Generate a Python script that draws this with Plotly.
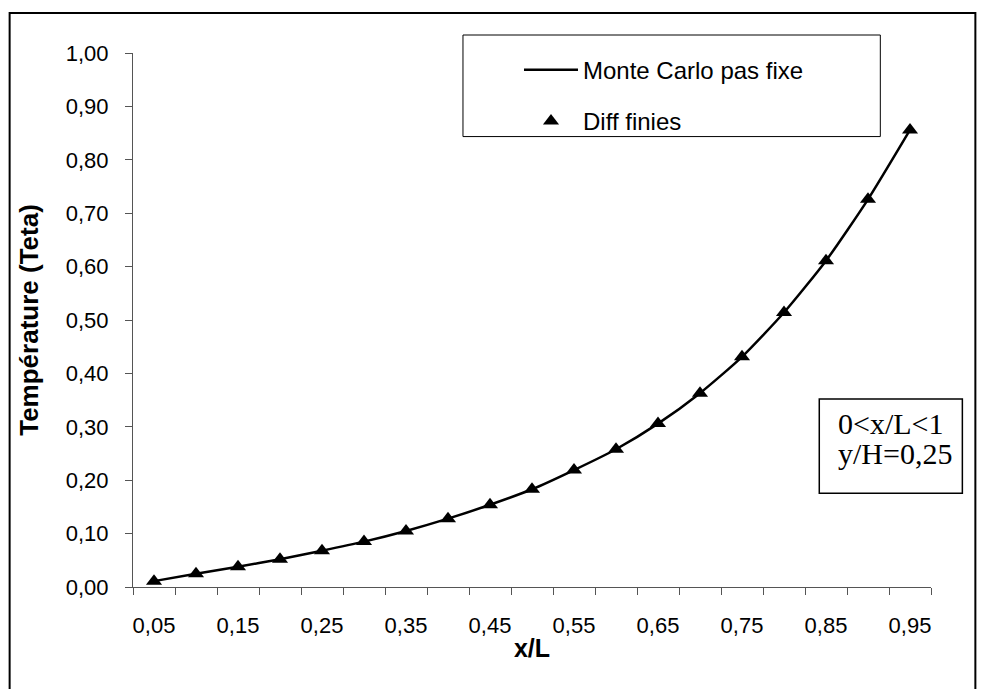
import plotly.graph_objects as go

# Dimensionless position along the plate
x_over_L = [0.05, 0.10, 0.15, 0.20, 0.25, 0.30, 0.35, 0.40, 0.45, 0.50,
            0.55, 0.60, 0.65, 0.70, 0.75, 0.80, 0.85, 0.90, 0.95]

# Temperature (Teta) from the fixed-step Monte Carlo walk
teta_monte_carlo = [0.011, 0.025, 0.038, 0.052, 0.068, 0.085, 0.105, 0.128, 0.154, 0.183,
                    0.219, 0.258, 0.306, 0.363, 0.431, 0.514, 0.611, 0.726, 0.856]

# Temperature (Teta) from the finite-difference solution
teta_diff_finies = [0.011, 0.025, 0.038, 0.052, 0.068, 0.085, 0.105, 0.128, 0.154, 0.183,
                    0.219, 0.258, 0.306, 0.363, 0.431, 0.514, 0.611, 0.726, 0.856]

x_tick_values = [0.05, 0.15, 0.25, 0.35, 0.45, 0.55, 0.65, 0.75, 0.85, 0.95]
x_tick_labels = ["0,05", "0,15", "0,25", "0,35", "0,45", "0,55", "0,65", "0,75", "0,85", "0,95"]
x_boundaries = [round(0.025 + 0.05 * k, 3) for k in range(20)]

note_lines = ["0&lt;x/L&lt;1", "y/H=0,25"]

SANS = "Liberation Sans, Arial, sans-serif"
SERIF = "Liberation Serif, Times New Roman, serif"
AXIS_GREY = "#555555"

fig = go.Figure()

fig.add_trace(go.Scatter(
    x=x_over_L, y=teta_monte_carlo, name="Monte Carlo pas fixe",
    mode="lines", line=dict(color="black", width=2.5, shape="spline", smoothing=0.6),
    legendgroup="mc",
))
fig.add_trace(go.Scatter(
    x=x_over_L, y=teta_diff_finies, name="Diff finies",
    mode="markers", marker=dict(symbol="triangle-up", size=14, color="black",
                                line=dict(width=0)),
    legendgroup="df",
))

fig.update_layout(
    width=985, height=689,
    margin=dict(l=133, r=54, t=53, b=102),
    paper_bgcolor="white", plot_bgcolor="white",
    separators=", ",
    font=dict(family=SANS, size=22, color="black"),
    showlegend=True,
    legend=dict(
        x=0.4837, y=1.01, xanchor="left", yanchor="top",
        bgcolor="rgba(0,0,0,0)", borderwidth=0,
        font=dict(family=SANS, size=24, color="black"),
        tracegroupgap=17, itemwidth=54,
    ),
)

fig.update_xaxes(
    range=[0.025, 0.975],
    tickmode="array", tickvals=x_tick_values, ticktext=x_tick_labels,
    ticks="", ticklabelstandoff=19, showgrid=False, zeroline=False,
    showline=True, linecolor=AXIS_GREY, linewidth=1,
    tickfont=dict(family=SANS, size=22),
    minor=dict(tickmode="array", tickvals=x_boundaries, ticks="outside",
               ticklen=7, tickwidth=1, tickcolor=AXIS_GREY, showgrid=False),
    title=dict(text="<b>x/L</b>", font=dict(family=SANS, size=25), standoff=2),
)

fig.update_yaxes(
    range=[0, 1], tickmode="linear", tick0=0, dtick=0.1, tickformat=".2f",
    ticks="outside", ticklen=7, tickwidth=1, tickcolor=AXIS_GREY,
    ticklabelstandoff=12,
    showgrid=False, zeroline=False,
    showline=True, linecolor=AXIS_GREY, linewidth=1,
    tickfont=dict(family=SANS, size=22),
    title=dict(text="<b>Température (Teta)</b>", font=dict(family=SANS, size=26), standoff=19),
)

# Outer chart frame
fig.add_shape(type="rect", xref="paper", yref="paper",
              x0=-0.1546, x1=1.0556, y0=-0.25, y1=1.075,
              line=dict(color="black", width=2), fillcolor="rgba(0,0,0,0)", layer="below")

# Legend frame
fig.add_shape(type="rect", xref="paper", yref="paper",
              x0=0.4135, x1=0.9365, y0=0.8435, y1=1.0337,
              line=dict(color="black", width=1), fillcolor="rgba(0,0,0,0)")

# Boundary-condition note
fig.add_shape(type="rect", xref="paper", yref="paper",
              x0=0.860, x1=1.0393, y0=0.1757, y1=0.352,
              line=dict(color="black", width=1.5), fillcolor="white")
for line_text, y_line in zip(note_lines, [0.3063, 0.2501]):
    fig.add_annotation(
        xref="paper", yref="paper", x=0.8813, y=y_line, xanchor="left", yanchor="middle",
        text=line_text, showarrow=False, align="left",
        font=dict(family=SERIF, size=30, color="black"),
    )

fig.write_html("out.html")
